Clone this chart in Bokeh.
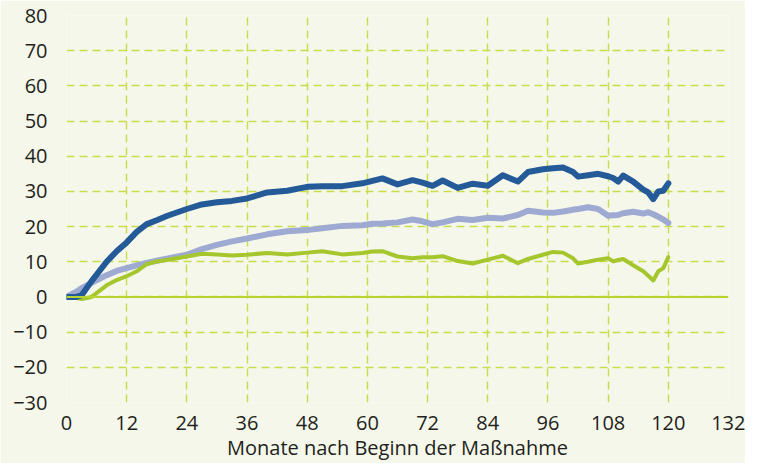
from bokeh.plotting import figure
from bokeh.models import Range1d, FixedTicker, Span
from bokeh.embed import file_html
from bokeh.resources import INLINE

months = [0, 2, 3, 5, 8, 10, 12, 14, 16, 18, 20, 24, 27, 30, 33, 36, 40, 44, 48, 51,
          55, 59, 61, 63, 66, 69, 71, 73, 75, 78, 81, 84, 87, 90, 92, 95, 97, 99, 101,
          102, 104, 106, 108, 109, 110, 111, 113, 115, 116, 117, 118, 119, 120]

dark_blue = [0, 0, 0.5, 4.5, 10, 13, 15.5, 18.5, 20.7, 21.8, 23, 25, 26.3, 26.9, 27.3, 28,
             29.7, 30.2, 31.3, 31.5, 31.5, 32.3, 33, 33.7, 32, 33.2, 32.5, 31.6, 33.1, 31,
             32.2, 31.6, 34.6, 32.8, 35.5, 36.3, 36.6, 36.8, 35.5, 34.2, 34.6, 35, 34.3,
             33.8, 32.8, 34.5, 32.8, 30.5, 29.7, 27.8, 30, 30.2, 32.3]

light_blue = [0, 1.5, 2.5, 4, 6.2, 7.4, 8.2, 9, 9.7, 10.3, 10.9, 12, 13.6, 14.8, 15.8, 16.6,
              17.8, 18.7, 19, 19.5, 20.2, 20.4, 20.8, 20.9, 21.2, 22, 21.5, 20.7, 21.2, 22.2,
              21.9, 22.5, 22.3, 23.3, 24.5, 24, 23.9, 24.3, 24.8, 25, 25.5, 25, 23.1, 23.2,
              23.3, 23.8, 24.2, 23.7, 24.1, 23.5, 22.8, 22, 21]

green = [0, -0.3, -0.6, 0, 3.3, 4.8, 5.9, 7.3, 9.3, 10.1, 10.5, 11.5, 12.3, 12.1, 11.8, 12,
         12.5, 12.1, 12.6, 13, 12.1, 12.5, 12.9, 13, 11.5, 11, 11.3, 11.3, 11.6, 10.2, 9.5,
         10.6, 11.7, 9.6, 10.8, 12, 12.8, 12.6, 11, 9.5, 10, 10.6, 11, 10.1, 10.5, 10.8, 9,
         7.3, 6, 4.7, 7.3, 8.2, 11.3]

x_ticks = [0, 12, 24, 36, 48, 60, 72, 84, 96, 108, 120, 132]
y_ticks = [-30, -20, -10, 0, 10, 20, 30, 40, 50, 60, 70, 80]
x_label = "Monate nach Beginn der Maßnahme"

BG = "#F5F7EA"
GRID = "#C8DC4C"
FONT = "Open Sans"
TXT = "#231F20"

p = figure(width=745, height=458, frame_width=662, frame_height=387,
           min_border_left=66, min_border_right=17, min_border_top=15, min_border_bottom=56,
           output_backend="svg", toolbar_location=None,
           x_range=Range1d(0, 132), y_range=Range1d(-30, 80))

p.background_fill_color = BG
p.border_fill_color = BG
p.outline_line_color = None

for ax in (p.xaxis[0], p.yaxis[0]):
    ax.axis_line_color = None
    ax.major_tick_line_color = None
    ax.minor_tick_line_color = None
    ax.major_label_text_font = FONT
    ax.major_label_text_font_size = "20px"
    ax.major_label_text_color = TXT

p.xaxis.ticker = FixedTicker(ticks=x_ticks)
p.yaxis.ticker = FixedTicker(ticks=y_ticks)
p.xaxis.major_label_standoff = 7
p.yaxis.major_label_standoff = 13
p.xaxis.axis_label = x_label
p.xaxis.axis_label_text_font = FONT
p.xaxis.axis_label_text_font_size = "20px"
p.xaxis.axis_label_text_font_style = "normal"
p.xaxis.axis_label_text_color = TXT
p.xaxis.axis_label_standoff = 1

for g in (p.xgrid[0], p.ygrid[0]):
    g.grid_line_color = GRID
    g.grid_line_dash = "8 5"
    g.grid_line_width = 1.4

p.add_layout(Span(location=0, dimension="width", line_color="#B8D432", line_width=2))

p.line(months, light_blue, line_color="#9FAAD3", line_width=6, line_join="round", line_cap="round")
p.line(months, green, line_color="#A5C62D", line_width=4, line_join="round", line_cap="round")
p.line(months, dark_blue, line_color="#245A98", line_width=6, line_join="round", line_cap="round")

open("out.html", "w").write(file_html(p, INLINE))
